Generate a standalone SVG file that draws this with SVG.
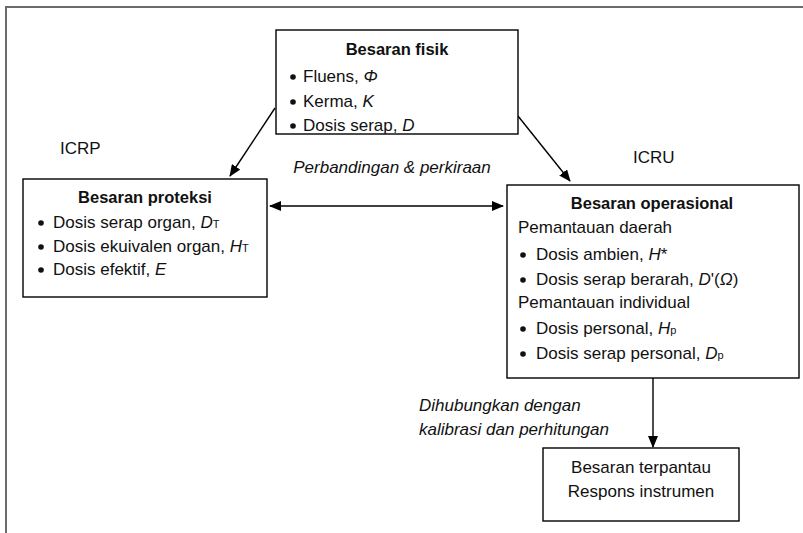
<svg xmlns="http://www.w3.org/2000/svg" width="803" height="533" viewBox="0 0 803 533">
  <style>
    .box { fill: #fff; stroke: #000; stroke-width: 1.4; }
    .frame { fill: none; stroke: #6a6a6a; stroke-width: 2; }
    .t { font-family: "Liberation Sans", Arial, sans-serif; font-size: 17px; fill: #111; }
    .title { font-family: "Liberation Sans", Arial, sans-serif; font-size: 16.5px; font-weight: bold; fill: #111; text-anchor: middle; }
    .it { font-style: italic; }
    .sub { font-size: 11px; }
    .link { stroke: #000; stroke-width: 1.4; fill: none; }
    .bullet { fill: #111; }
  </style>
  <defs>
    <marker id="head" viewBox="0 0 12 10" refX="11" refY="5" markerWidth="12" markerHeight="10" markerUnits="userSpaceOnUse" orient="auto-start-reverse">
      <path d="M0,0 L12,5 L0,10 Z" fill="#000"/>
    </marker>
  </defs>
  <rect width="803" height="533" fill="#fff"/>

  <!-- outer frame: top and left edges only -->
  <path class="frame" d="M6,533 L6,7 L803,7"/>

  <!-- connectors -->
  <g id="connectors">
    <line class="link" x1="275" y1="108" x2="230" y2="176" marker-end="url(#head)"/>
    <line class="link" x1="518" y1="116" x2="570" y2="181" marker-end="url(#head)"/>
    <line class="link" x1="270" y1="206" x2="503" y2="206" marker-start="url(#head)" marker-end="url(#head)"/>
    <line class="link" x1="653" y1="378" x2="653" y2="447" marker-end="url(#head)"/>
  </g>

  <!-- free labels -->
  <text class="t" x="60" y="154">ICRP</text>
  <text class="t" x="633" y="163">ICRU</text>
  <text class="t it" x="392" y="173" text-anchor="middle">Perbandingan &amp; perkiraan</text>
  <text class="t it" x="419" y="411">Dihubungkan dengan</text>
  <text class="t it" x="419" y="435">kalibrasi dan perhitungan</text>

  <!-- physical quantities -->
  <g id="node-fisik">
    <rect class="box" x="276" y="30" width="242" height="104"/>
    <text class="title" x="397" y="55">Besaran fisik</text>
    <circle class="bullet" cx="293" cy="77" r="2.8"/>
    <text class="t" x="303" y="82">Fluens, <tspan class="it">Φ</tspan></text>
    <circle class="bullet" cx="293" cy="102" r="2.8"/>
    <text class="t" x="303" y="107">Kerma, <tspan class="it">K</tspan></text>
    <circle class="bullet" cx="293" cy="126" r="2.8"/>
    <text class="t" x="303" y="131">Dosis serap, <tspan class="it">D</tspan></text>
  </g>

  <!-- protection quantities -->
  <g id="node-proteksi">
    <rect class="box" x="23" y="179" width="244" height="118"/>
    <text class="title" x="145" y="203">Besaran proteksi</text>
    <circle class="bullet" cx="41" cy="223" r="2.8"/>
    <text class="t" x="53" y="228">Dosis serap organ, <tspan class="it">D</tspan><tspan class="sub">T</tspan></text>
    <circle class="bullet" cx="41" cy="247" r="2.8"/>
    <text class="t" x="53" y="252">Dosis ekuivalen organ, <tspan class="it">H</tspan><tspan class="sub">T</tspan></text>
    <circle class="bullet" cx="41" cy="270" r="2.8"/>
    <text class="t" x="53" y="275">Dosis efektif, <tspan class="it">E</tspan></text>
  </g>

  <!-- operational quantities -->
  <g id="node-operasional">
    <rect class="box" x="507" y="185" width="292" height="193"/>
    <text class="title" x="652" y="209">Besaran operasional</text>
    <text class="t" x="518" y="233">Pemantauan daerah</text>
    <circle class="bullet" cx="523" cy="255" r="2.8"/>
    <text class="t" x="536" y="260">Dosis ambien, <tspan class="it">H</tspan>*</text>
    <circle class="bullet" cx="523" cy="280" r="2.8"/>
    <text class="t" x="536" y="285">Dosis serap berarah, <tspan class="it">D</tspan>'(<tspan class="it">Ω</tspan>)</text>
    <text class="t" x="518" y="308">Pemantauan individual</text>
    <circle class="bullet" cx="523" cy="329" r="2.8"/>
    <text class="t" x="536" y="334">Dosis personal, <tspan class="it">H</tspan><tspan class="sub">p</tspan></text>
    <circle class="bullet" cx="523" cy="354" r="2.8"/>
    <text class="t" x="536" y="359">Dosis serap personal, <tspan class="it">D</tspan><tspan class="sub">p</tspan></text>
  </g>

  <!-- monitored quantities -->
  <g id="node-terpantau">
    <rect class="box" x="543" y="448" width="196" height="73"/>
    <text class="t" x="641" y="473" text-anchor="middle">Besaran terpantau</text>
    <text class="t" x="641" y="497" text-anchor="middle">Respons instrumen</text>
  </g>
</svg>
